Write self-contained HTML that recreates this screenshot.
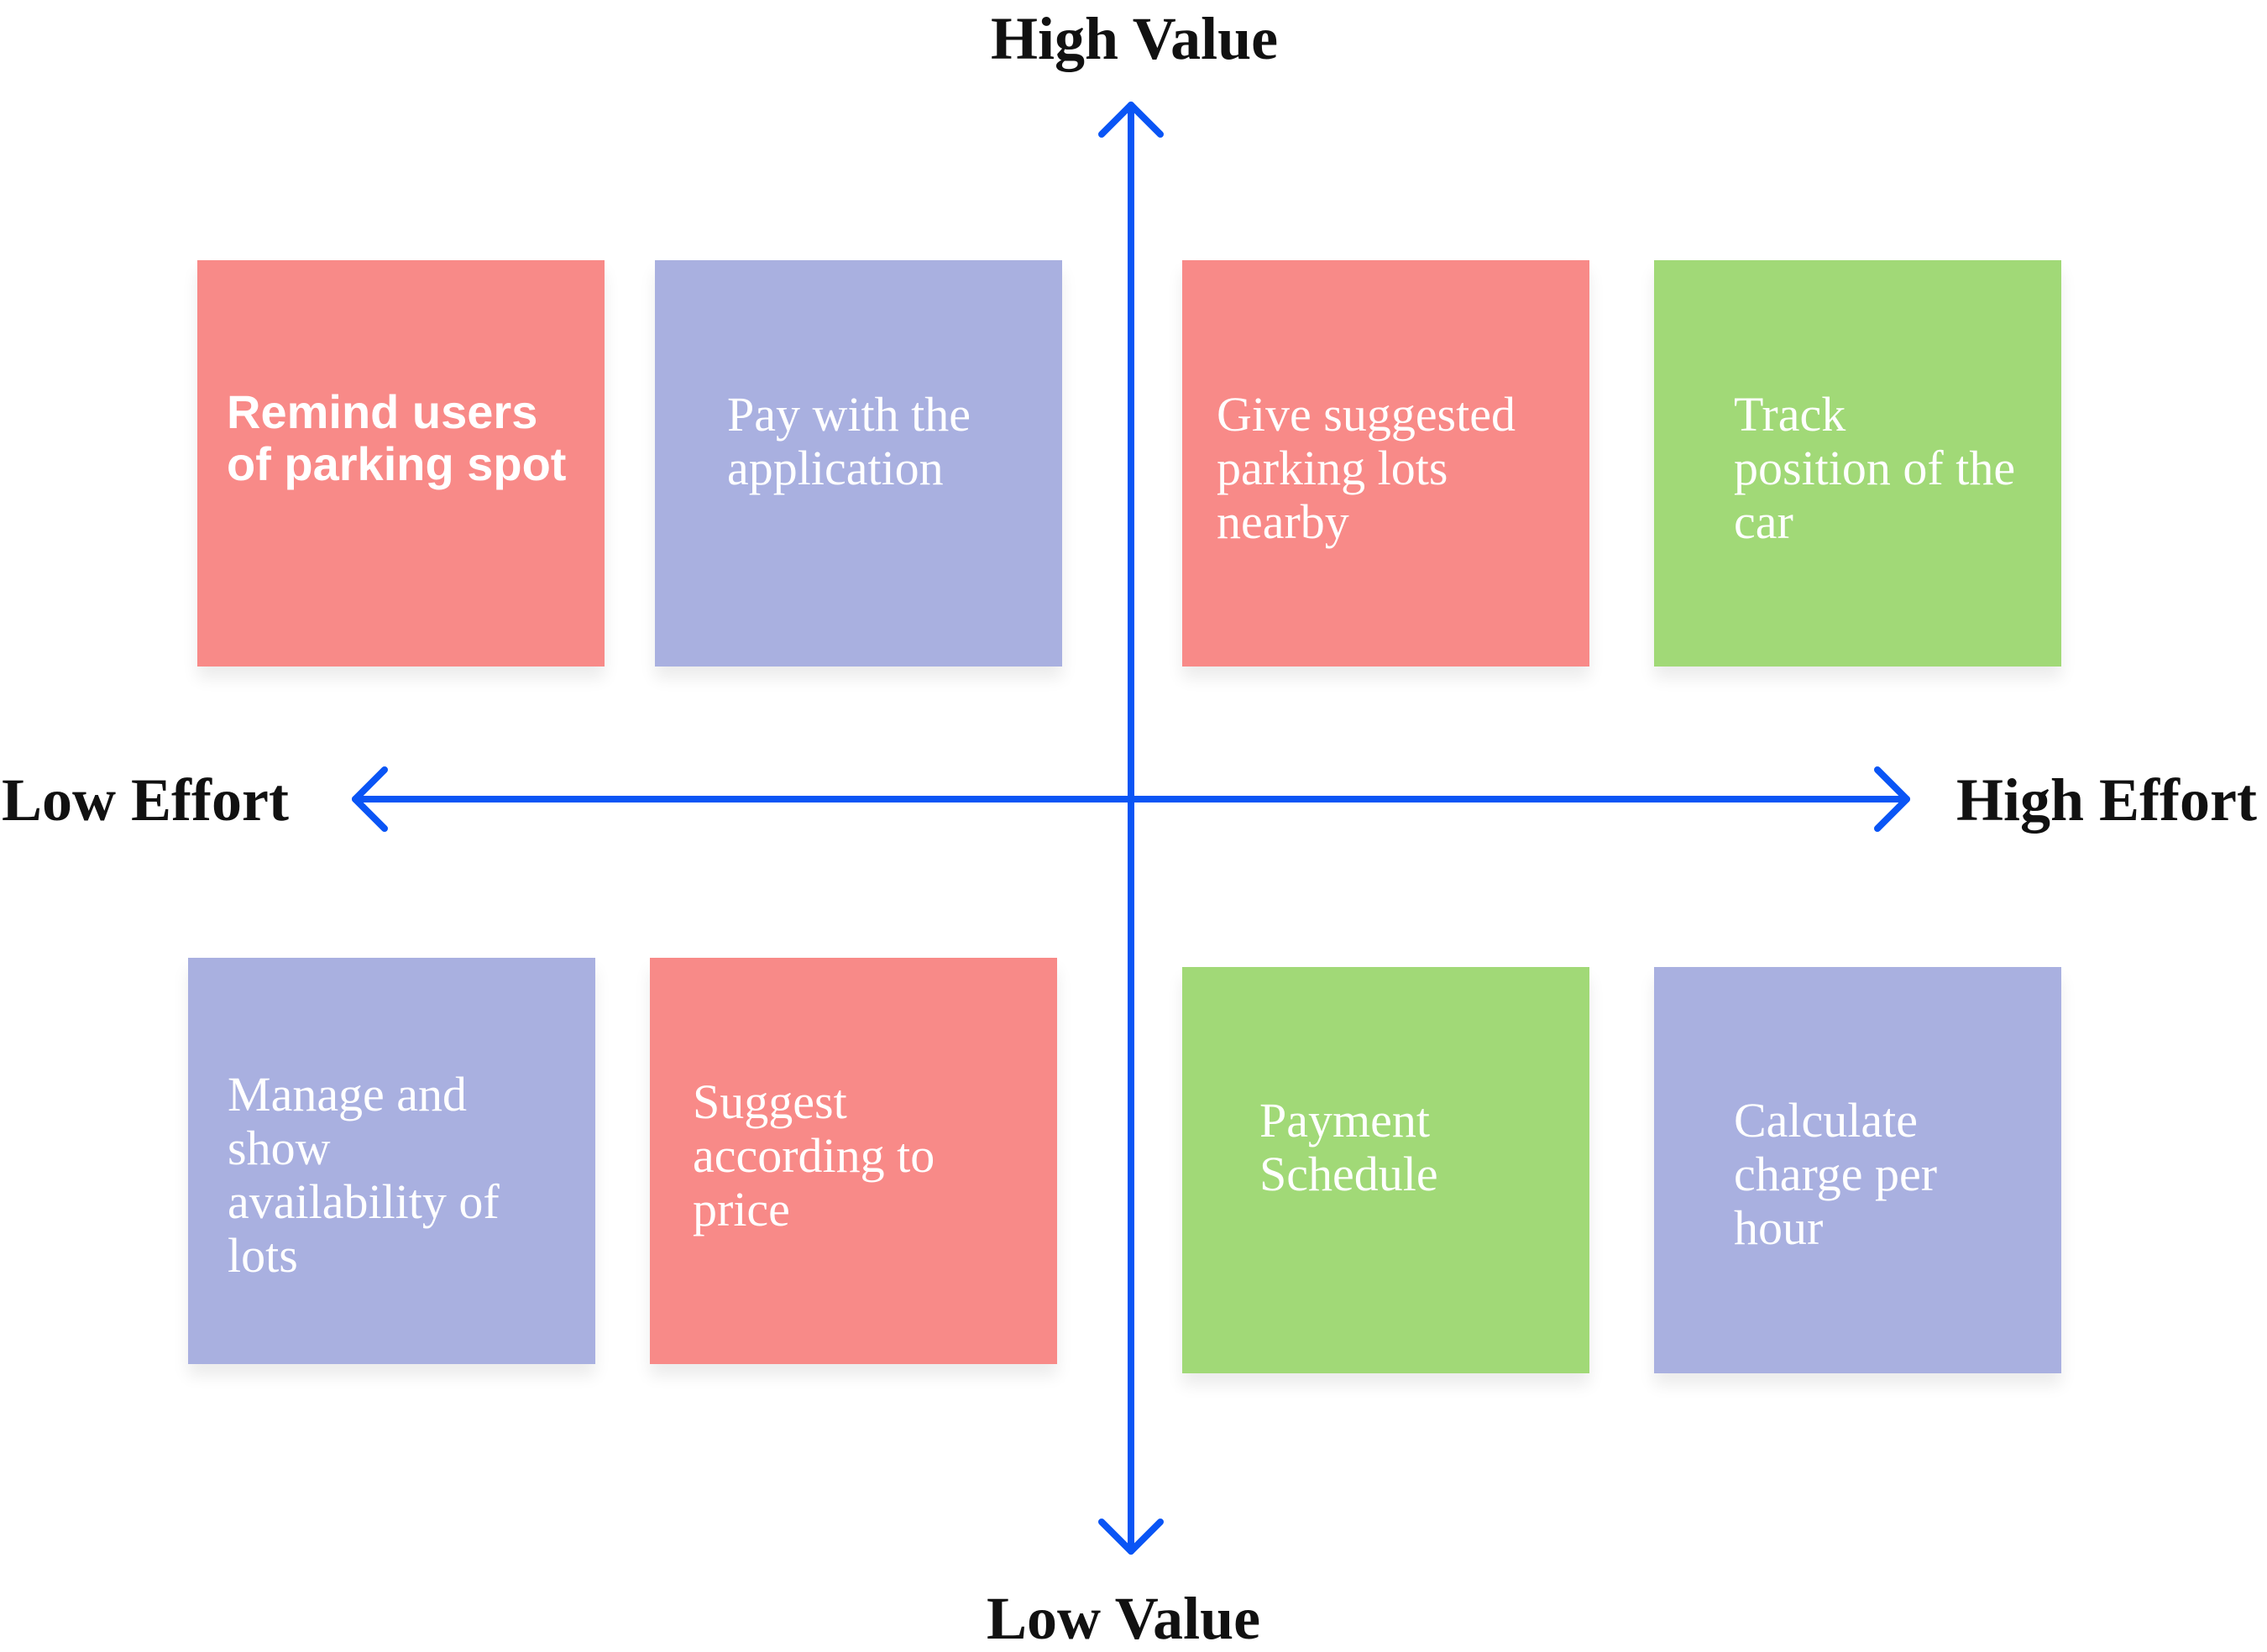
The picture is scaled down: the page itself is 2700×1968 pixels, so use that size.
<!DOCTYPE html>
<html><head><meta charset="utf-8"><style>
body{margin:0;width:2700px;height:1944px;background:#fff;position:relative;overflow:hidden}
.b{position:absolute;width:485px;height:484px;box-shadow:0 14px 18px rgba(0,0,0,0.08)}
.t{position:absolute;color:#fff;font-family:"Liberation Serif",serif;font-size:58px;line-height:64px;white-space:nowrap}
.s{font-family:"Liberation Sans",sans-serif;font-weight:bold;font-size:56px;line-height:62px}
.r{background:#f88a88}.p{background:#a9b0e0}.g{background:#a1d977}
.l{position:absolute;font-family:"Liberation Serif",serif;font-weight:bold;font-size:72px;color:#111;white-space:nowrap;line-height:1}
</style></head><body>
<div class="b r" style="left:235px;top:310px"></div>
<div class="b p" style="left:780px;top:310px"></div>
<div class="b r" style="left:1408px;top:310px"></div>
<div class="b g" style="left:1970px;top:310px"></div>
<div class="b p" style="left:224px;top:1141px"></div>
<div class="b r" style="left:774px;top:1141px"></div>
<div class="b g" style="left:1408px;top:1152px"></div>
<div class="b p" style="left:1970px;top:1152px"></div>

<div class="t s" style="left:270px;top:460px">Remind users<br>of parking spot</div>
<div class="t" style="left:866px;top:462px">Pay with the<br>application</div>
<div class="t" style="left:1449px;top:462px">Give suggested<br>parking lots<br>nearby</div>
<div class="t" style="left:2065px;top:462px">Track<br>position of the<br>car</div>
<div class="t" style="left:271px;top:1272px">Manage and<br>show<br>availability of<br>lots</div>
<div class="t" style="left:825px;top:1281px">Suggest<br>according to<br>price</div>
<div class="t" style="left:1500px;top:1303px">Payment<br>Schedule</div>
<div class="t" style="left:2065px;top:1303px">Calculate<br>charge per<br>hour</div>

<svg style="position:absolute;left:0;top:0" width="2700" height="1944">
<g stroke="#0a55f5" stroke-width="8" fill="none" stroke-linecap="round" stroke-linejoin="round">
<line x1="1347" y1="125" x2="1347" y2="1848"/>
<line x1="423" y1="952" x2="2271" y2="952"/>
<polyline points="1312,160 1347,125 1382,160"/>
<polyline points="1312,1813 1347,1848 1382,1813"/>
<polyline points="458,917 423,952 458,987"/>
<polyline points="2236,917 2271,952 2236,987"/>
</g></svg>

<div class="l" style="left:1180px;top:10px">High Value</div>
<div class="l" style="left:1175px;top:1892px">Low Value</div>
<div class="l" style="left:2px;top:917px">Low Effort</div>
<div class="l" style="left:2330px;top:917px">High Effort</div>
</body></html>
